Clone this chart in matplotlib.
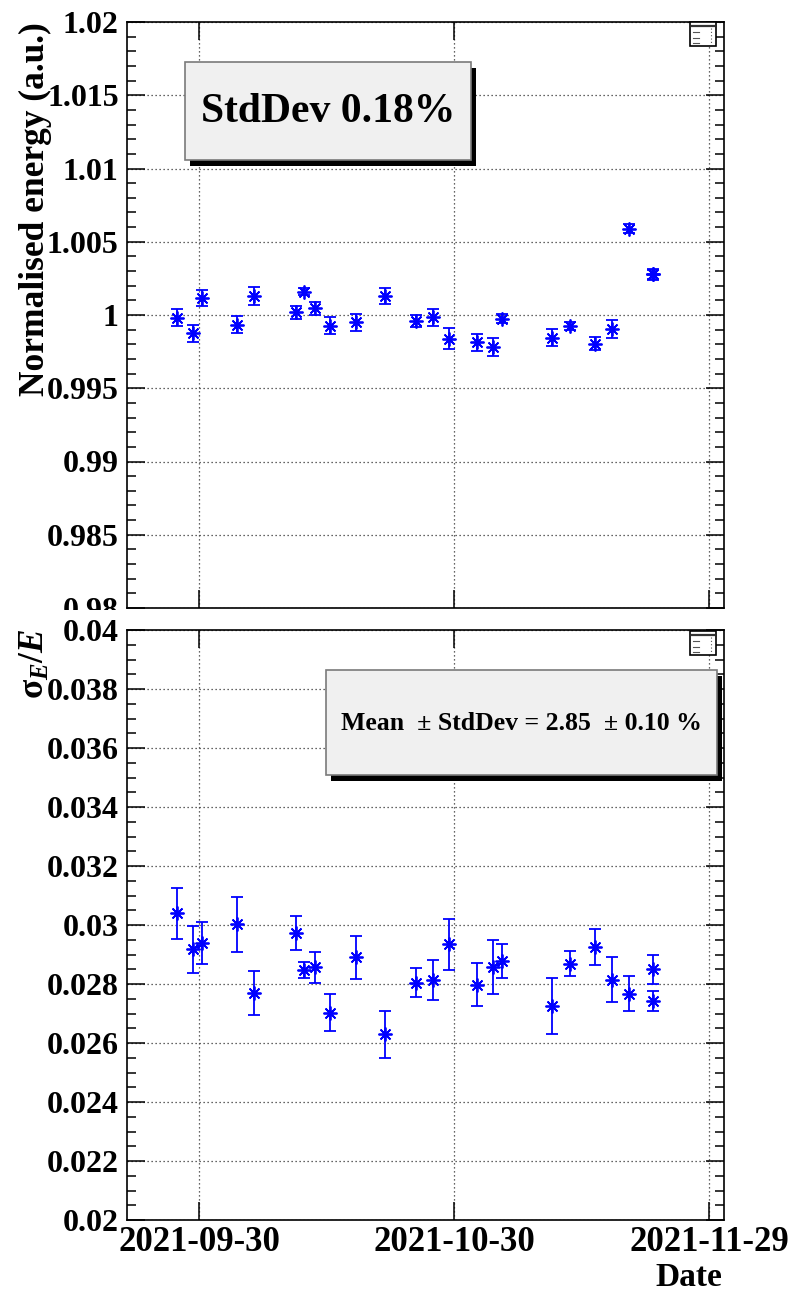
import numpy as np
import matplotlib
matplotlib.use("Agg")
import matplotlib.pyplot as plt
import matplotlib.dates as mdates
from matplotlib.patches import Rectangle
from matplotlib.lines import Line2D
from matplotlib.ticker import FixedLocator, MultipleLocator
from matplotlib.transforms import Bbox, TransformedBbox

# ---------------- data ----------------
dates = [
    "2021-09-27T11:00", "2021-09-29T08:00", "2021-09-30T09:20", "2021-10-04T10:20",
    "2021-10-06T12:00", "2021-10-11T08:40", "2021-10-12T09:00", "2021-10-13T15:00",
    "2021-10-15T10:20", "2021-10-18T11:30", "2021-10-21T20:40", "2021-10-25T11:00",
    "2021-10-27T12:00", "2021-10-29T09:00", "2021-11-01T15:00", "2021-11-03T12:00",
    "2021-11-04T16:00", "2021-11-10T11:30", "2021-11-12T13:30", "2021-11-15T12:00",
    "2021-11-17T12:00", "2021-11-19T12:00", "2021-11-22T09:00", "2021-11-22T09:00",
]
norm_energy = [0.99982, 0.99874, 1.00116, 0.99934, 1.00130, 1.00018, 1.00159, 1.00045,
               0.99925, 0.99950, 1.00127, 0.99959, 0.99984, 0.99838, 0.99813, 0.99782,
               0.99975, 0.99846, 0.99925, 0.99805, 0.99905, 1.00589, 1.00277, 1.00277]
norm_energy_err = [0.00060, 0.00057, 0.00055, 0.00060, 0.00060, 0.00044, 0.00025, 0.00044,
                   0.00058, 0.00058, 0.00055, 0.00040, 0.00060, 0.00070, 0.00060, 0.00060,
                   0.00030, 0.00060, 0.00030, 0.00045, 0.00060, 0.00030, 0.00040, 0.00030]
resolution = [0.03040, 0.02917, 0.02940, 0.03003, 0.02770, 0.02973, 0.02847, 0.02856,
              0.02703, 0.02890, 0.02629, 0.02805, 0.02813, 0.02934, 0.02797, 0.02857,
              0.02879, 0.02724, 0.02869, 0.02925, 0.02815, 0.02767, 0.02850, 0.02741]
resolution_err = [0.00086, 0.00081, 0.00071, 0.00093, 0.00075, 0.00057, 0.00028, 0.00054,
                  0.00064, 0.00073, 0.00081, 0.00048, 0.00068, 0.00087, 0.00073, 0.00092,
                  0.00058, 0.00095, 0.00043, 0.00060, 0.00076, 0.00060, 0.00050, 0.00034]
date_ticks = ["2021-09-30", "2021-10-30", "2021-11-29"]
x_range = ["2021-09-21T13:00", "2021-11-30T17:00"]
top_yticks = [0.98, 0.985, 0.99, 0.995, 1.0, 1.005, 1.01, 1.015, 1.02]
top_yticklabels = ["0.98", "0.985", "0.99", "0.995", "1", "1.005", "1.01", "1.015", "1.02"]
bot_yticks = [0.02, 0.022, 0.024, 0.026, 0.028, 0.03, 0.032, 0.034, 0.036, 0.038, 0.04]
bot_yticklabels = ["0.02", "0.022", "0.024", "0.026", "0.028", "0.03", "0.032", "0.034",
                   "0.036", "0.038", "0.04"]
top_label = "Normalised energy (a.u.)"
bot_label = r"σ$_{\mathit{E}}$/$\mathit{E}$"
x_label = "Date"
top_stat = "StdDev 0.18%"
bot_stat = "Mean  \u00b1 StdDev = 2.85  \u00b1 0.10 %"

# ---------------- style ----------------
plt.rcParams["font.family"] = ["Liberation Serif", "DejaVu Serif"]
plt.rcParams["font.weight"] = "bold"
plt.rcParams["mathtext.fontset"] = "custom"
plt.rcParams["mathtext.rm"] = "Liberation Serif:bold"
plt.rcParams["mathtext.it"] = "Liberation Serif:italic:bold"
plt.rcParams["mathtext.bf"] = "Liberation Serif:bold"

W, H = 794, 1292
fig = plt.figure(figsize=(W / 100, H / 100), dpi=100)


def fx(px):
    return px / W


def fy(py):
    return 1 - py / H


def add_axes_px(x0, y0, x1, y1):
    return fig.add_axes([fx(x0), fy(y1), fx(x1) - fx(x0), fy(y0) - fy(y1)])


ax1 = add_axes_px(127, 22, 724, 608)
ax2 = add_axes_px(127, 630, 724, 1220)

xd = np.array(dates, dtype="datetime64[m]")
xt = np.array(date_ticks, dtype="datetime64[m]")
xr = np.array(x_range, dtype="datetime64[m]")

blue = "#0000ff"
star = (8, 2, 0)

for ax, y, e, yt, ytl, ylim, minor in [
    (ax1, norm_energy, norm_energy_err, top_yticks, top_yticklabels, (0.98, 1.02), 0.001),
    (ax2, resolution, resolution_err, bot_yticks, bot_yticklabels, (0.02, 0.04), 0.0005),
]:
    ax.errorbar(xd, y, yerr=e, fmt="none", ecolor=blue, elinewidth=1.3,
                capsize=4, capthick=1.3, zorder=3)
    ax.plot(xd, y, linestyle="none", marker=star, markersize=10,
            markeredgecolor=blue, markeredgewidth=1.3, color=blue, zorder=4)
    ax.set_xlim(mdates.date2num(xr[0]), mdates.date2num(xr[1]))
    ax.set_ylim(*ylim)
    ax.set_xticks(mdates.date2num(xt))
    ax.yaxis.set_major_locator(FixedLocator(yt))
    ax.set_yticklabels(ytl)
    ax.yaxis.set_minor_locator(MultipleLocator(minor))
    ax.tick_params(axis="both", which="major", direction="in", length=13, width=1.1,
                   top=True, right=True, labelsize=23, pad=6)
    ax.tick_params(axis="y", which="minor", direction="in", length=6.5, width=1.1,
                   left=True, right=True)
    ax.tick_params(axis="x", which="minor", bottom=False, top=False)
    ax.grid(True, which="major", color="#333333", linestyle=(0, (1, 2.2)), linewidth=0.9)
    for sp in ax.spines.values():
        sp.set_linewidth(1.2)
    # small icon at top-right
    for lab in ax.get_yticklabels():
        lab.set_fontweight("bold")

ax1.set_xticklabels([])
ax2.set_xticklabels(date_ticks)
ax2.tick_params(axis="x", labelsize=25, pad=4)

# clip the top panel's tick labels at the pad boundary
clip = TransformedBbox(Bbox([[0, fy(610)], [1, 1]]), fig.transFigure)
for tick in ax1.yaxis.get_major_ticks():
    tick.label1.set_clip_on(True)
    tick.label1.set_clip_box(clip)

# axis titles
fig.text(fx(35), fy(22), top_label, rotation=90, ha="center", va="top",
         fontsize=25.5, fontweight="bold")
fig.text(fx(35), fy(628), bot_label, rotation=90, ha="center", va="top",
         fontsize=25.5, fontweight="bold")
fig.text(fx(722), fy(1277), x_label, ha="right", va="center", fontsize=24,
         fontweight="bold")


def stat_box(x0, y0, x1, y1, text, size, sh=5):
    shadow = Rectangle((fx(x0 + sh), fy(y1 + sh + 1)), fx(x1) - fx(x0), fy(y0) - fy(y1),
                       transform=fig.transFigure, facecolor="black", edgecolor="none",
                       zorder=10)
    box = Rectangle((fx(x0), fy(y1)), fx(x1) - fx(x0), fy(y0) - fy(y1),
                    transform=fig.transFigure, facecolor="#f0f0f0", edgecolor="#7a7a7a",
                    linewidth=1.2, zorder=11)
    fig.add_artist(shadow)
    fig.add_artist(box)
    fig.text(fx((x0 + x1) / 2), fy((y0 + y1) / 2 + 1), text, ha="center", va="center",
             fontsize=size, fontweight="bold", zorder=12)


stat_box(185, 62, 471, 160, top_stat, 30)
stat_box(326, 670, 717, 775, bot_stat, 18.5)


def icon(x0, y0):
    r = Rectangle((fx(x0), fy(y0 + 24)), fx(26), 24 / H, transform=fig.transFigure,
                  facecolor="white", edgecolor="black", linewidth=1.2, zorder=10)
    fig.add_artist(r)
    fig.add_artist(Line2D([fx(x0 + 2), fx(x0 + 24)], [fy(y0 + 4), fy(y0 + 4)],
                          transform=fig.transFigure, color="#333333", lw=1.6, zorder=11))
    for dy in (10, 16, 21):
        fig.add_artist(Line2D([fx(x0 + 3), fx(x0 + 9)], [fy(y0 + dy), fy(y0 + dy)],
                              transform=fig.transFigure, color="#555555", lw=0.8, zorder=11))
    fig.add_artist(Line2D([fx(x0 + 21), fx(x0 + 21)], [fy(y0 + 6), fy(y0 + 22)],
                          transform=fig.transFigure, color="#555555", lw=0.8,
                          linestyle=(0, (1, 2)), zorder=11))


icon(690, 22)
icon(690, 631)

fig.savefig("out.png", dpi=100)
